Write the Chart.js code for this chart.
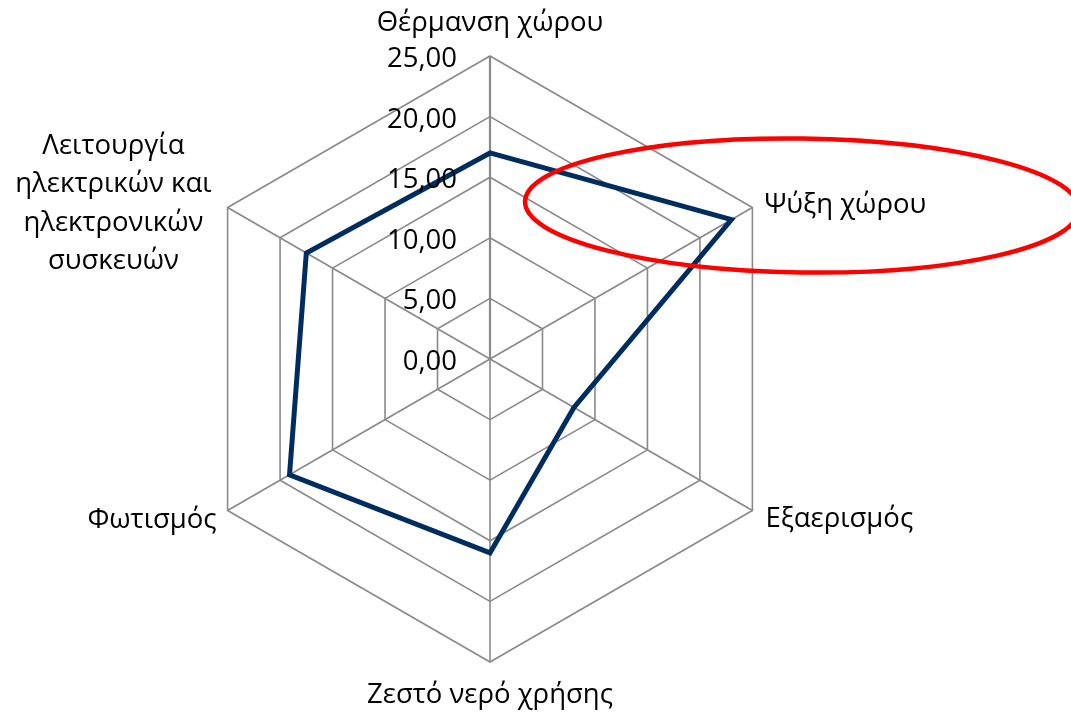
<!DOCTYPE html>
<html><head><meta charset="utf-8">
<script src="https://cdn.jsdelivr.net/npm/chart.js@4"></script>
<style>html,body{margin:0;padding:0;background:#fff}#wrap{width:1071px;height:714px;position:relative}canvas{display:block}</style>
</head><body><div id="wrap"><canvas id="c" width="1071" height="714"></canvas></div>
<script>
const categories = ['Θέρμανση χώρου', 'Ψύξη χώρου', 'Εξαερισμός', 'Ζεστό νερό χρήσης', 'Φωτισμός', ['Λειτουργία', 'ηλεκτρικών και', 'ηλεκτρονικών', 'συσκευών']];
const seriesValues = [17, 23, 8, 16, 19.1, 17.5];
const tickValues = [0, 5, 10, 15, 20, 25];
const tickLabels = ['0,00', '5,00', '10,00', '15,00', '20,00', '25,00'];

const FONT = '27.5px "Open Sans"';

// label placement offsets relative to each axis end (style only)
const labelStyle = [
  {dx: 0, dy: -25, align: 'center'},
  {dx: 12, dy: 5, align: 'left'},
  {dx: 13, dy: 16, align: 'left'},
  {dx: 0, dy: 41, align: 'center'},
  {dx: -11, dy: 17, align: 'right'},
  {dx: -16, dy: -54, align: 'block', lh: 38.5}
];

const overlay = {
  id: 'overlay',
  afterDraw(chart) {
    const s = chart.scales.r;
    const ctx = chart.ctx;
    ctx.save();
    ctx.fillStyle = '#000';
    ctx.font = FONT;
    ctx.textBaseline = 'alphabetic';
    // tick labels
    tickValues.forEach((v, i) => {
      const d = s.getDistanceFromCenterForValue(v);
      ctx.textAlign = 'right';
      ctx.fillText(tickLabels[i], s.xCenter - 33, s.yCenter - d + 11);
    });
    // category labels
    categories.forEach((lab, i) => {
      const p = s.getPointPosition(i, s.drawingArea);
      const st = labelStyle[i];
      if (Array.isArray(lab)) {
        const w = Math.max(...lab.map(t => ctx.measureText(t).width));
        const cx = p.x + st.dx - w / 2;
        ctx.textAlign = 'center';
        lab.forEach((t, k) => ctx.fillText(t, cx, p.y + st.dy + k * st.lh));
      } else {
        ctx.textAlign = st.align;
        ctx.fillText(lab, p.x + st.dx, p.y + st.dy);
      }
    });
    // red annotation ellipse
    ctx.strokeStyle = '#ff0000';
    ctx.lineWidth = 4.5;
    ctx.beginPath();
    ctx.ellipse(802, 205.5, 277, 67, 0.014, 0, Math.PI * 2);
    ctx.stroke();
    ctx.restore();
  }
};

new Chart(document.getElementById('c'), {
  type: 'radar',
  data: {
    labels: categories,
    datasets: [{
      data: seriesValues,
      borderColor: 'rgb(0,45,95)',
      borderWidth: 5,
      backgroundColor: 'transparent',
      fill: false,
      pointRadius: 0,
      pointHoverRadius: 0,
      borderJoinStyle: 'miter',
      tension: 0
    }]
  },
  plugins: [overlay],
  options: {
    responsive: false,
    animation: false,
    devicePixelRatio: 1,
    layout: {padding: {top: 56, bottom: 52, left: 187, right: 278}},
    plugins: {legend: {display: false}, tooltip: {enabled: false}},
    scales: {
      r: {
        min: 0,
        max: 25,
        ticks: {display: false, stepSize: 5},
        pointLabels: {display: false},
        grid: {circular: false, color: '#898989', lineWidth: 1.6},
        angleLines: {display: true, color: '#898989', lineWidth: (c) => c.index === 0 ? 2.2 : 1.6}
      }
    }
  }
});
</script>
</body></html>
